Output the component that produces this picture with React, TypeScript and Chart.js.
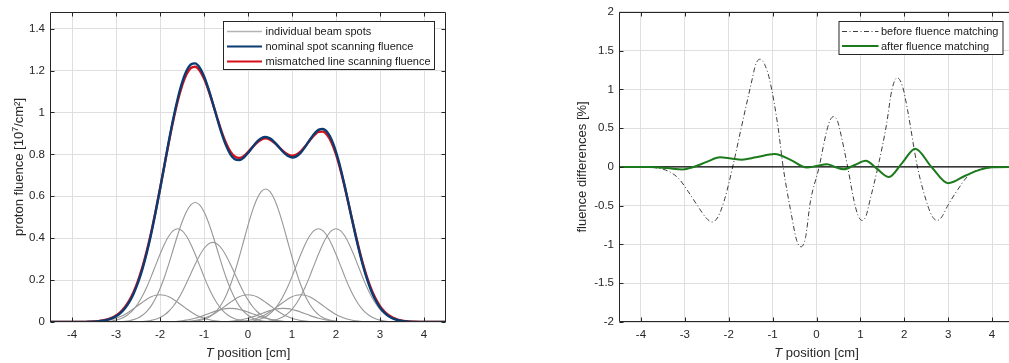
import React, { useEffect, useRef } from "react";
import { Chart, registerables } from "chart.js";

Chart.register(...registerables);

// ------------------------------------------------------------------ data
const xTicks = [-4, -3, -2, -1, 0, 1, 2, 3, 4];
const fluenceTicks = [0, 0.2, 0.4, 0.6, 0.8, 1, 1.2, 1.4];
const diffTicks = [-2, -1.5, -1, -0.5, 0, 0.5, 1, 1.5, 2];

// individual beam spots (centre [cm], peak fluence [10^7/cm²])
const spotCenters = [-2, -1.6, -1.2, -0.8, -0.4, 0, 0.4, 0.8, 1.2, 1.6, 2];
const spotPeaks = [0.13, 0.445, 0.57, 0.38, 0.065, 0.13, 0.635, 0.065, 0.13, 0.445, 0.445];

// relative beam-spot profile, read every 0.1 cm from the spot centre
const spotProfile = [
  1, 0.98, 0.923, 0.835, 0.726, 0.607, 0.487, 0.375, 0.278, 0.198, 0.135,
  0.089, 0.056, 0.034, 0.02, 0.011, 0.006, 0.003, 0.0015, 0.0007, 0.0003,
];
// broadened profile of the mismatched line scanning
const lineProfile = [
  0.974, 0.955, 0.903, 0.821, 0.719, 0.606, 0.492, 0.385, 0.289, 0.21, 0.146,
  0.098, 0.064, 0.04, 0.024, 0.014, 0.008, 0.004, 0.002, 0.001, 0.0005,
];
const profileStep = 0.1;

// fluence differences [%]
const beforeX = [
  -4.5, -4.0, -3.67, -3.37, -3.14, -2.92, -2.7, -2.51, -2.38, -2.24, -2.09, -1.91,
  -1.72, -1.49, -1.38, -1.28, -1.18, -1.07, -0.88, -0.76, -0.57, -0.45, -0.35, -0.25,
  -0.14, 0.06, 0.21, 0.3, 0.39, 0.48, 0.56, 0.71, 0.86, 0.95, 1.04, 1.13, 1.21, 1.4,
  1.59, 1.72, 1.84, 1.96, 2.07, 2.3, 2.53, 2.64, 2.75, 2.86, 2.98, 3.21, 3.43, 3.66,
  3.89, 4.2, 4.5,
];
const beforeY = [
  0, 0, -0.01, -0.056, -0.15, -0.32, -0.51, -0.66, -0.71, -0.64, -0.41, 0,
  0.49, 1.07, 1.33, 1.39, 1.32, 1.13, 0.53, 0, -0.62, -0.95, -1.03, -0.91,
  -0.45, 0, 0.41, 0.59, 0.65, 0.59, 0.41, 0, -0.45, -0.63, -0.69, -0.63, -0.45, 0,
  0.53, 1.0, 1.15, 1.04, 0.75, 0, -0.49, -0.64, -0.69, -0.64, -0.51, -0.3, -0.13, -0.04,
  -0.01, 0, 0,
];
const afterX = [
  -4.5, -3.8, -3.4, -3.05, -2.8, -2.5, -2.2, -1.95, -1.7, -1.38, -0.95, -0.58,
  -0.22, 0.0, 0.24, 0.42, 0.62, 0.87, 1.12, 1.38, 1.65, 1.95, 2.25, 2.62, 3.0,
  3.4, 3.73, 4.0, 4.5,
];
const afterY = [
  0, 0, -0.015, -0.033, 0, 0.065, 0.124, 0.11, 0.094, 0.124, 0.167, 0.088,
  -0.008, 0.012, 0.035, 0.0, -0.03, 0.025, 0.08, -0.025, -0.13, 0.05, 0.235, 0.0, -0.21,
  -0.11, -0.035, -0.005, 0,
];
const zeroX = [-4.5, 4.5];
const zeroY = [0, 0];

// ------------------------------------------------------------------ styles
const FONT = "'Liberation Sans', Arial, Helvetica, sans-serif";
const TEXT = "#262626";
const GRID = "#dfdfdf";
const SPOT = "#979797";
const BLUE = "#0b3b70";
const RED = "#d6101a";
const DASHGRAY = "#3c3c3c";
const GREEN = "#1b7a1b";

const positions = Array.from({ length: 91 }, (_, i) => Math.round((-4.5 + i * profileStep) * 10) / 10);

function spotCurve(profile: number[], center: number, peak: number) {
  return positions.map((x) => {
    const k = Math.round(Math.abs(x - center) / profileStep);
    return { x, y: k < profile.length ? peak * profile[k] : 0 };
  });
}

function sumCurves(curves: { x: number; y: number }[][]) {
  return positions.map((x, j) => ({ x, y: curves.reduce((s, c) => s + c[j].y, 0) }));
}

function zip(xs: number[], ys: number[]) {
  return xs.map((x, i) => ({ x, y: ys[i] }));
}

type Part = { text: string; font: string; dy?: number };

function drawRich(ctx: CanvasRenderingContext2D, parts: Part[], cx: number, cy: number, rotate: boolean, baseOff: number) {
  ctx.save();
  ctx.translate(cx, cy);
  if (rotate) ctx.rotate(-Math.PI / 2);
  ctx.textBaseline = "alphabetic";
  ctx.textAlign = "left";
  ctx.fillStyle = TEXT;
  let total = 0;
  for (const p of parts) {
    ctx.font = p.font;
    total += ctx.measureText(p.text).width;
  }
  let x = -total / 2;
  for (const p of parts) {
    ctx.font = p.font;
    ctx.fillText(p.text, x, baseOff + (p.dy || 0));
    x += ctx.measureText(p.text).width;
  }
  ctx.restore();
}

type LegendItem = { label: string; color: string; width: number; dash?: number[] };
type Deco = {
  legend: { left: number; top: number; right: number; bottom: number; rows: number[]; lineFrom: number; lineTo: number; textX: number; items: LegendItem[] };
  yTitle: Part[];
  yTitleX: number;
};

function makeDeco(deco: Deco) {
  return {
    id: "deco",
    afterDatasetsDraw(chart: any) {
      const { ctx, chartArea: a, scales } = chart;
      ctx.save();
      ctx.strokeStyle = TEXT;
      ctx.lineWidth = 1;
      ctx.setLineDash([]);
      ctx.beginPath();
      const L = Math.round(a.left) + 0.5;
      const R = Math.round(a.right) - 0.5;
      const T = Math.round(a.top) + 0.5;
      const B = Math.round(a.bottom) - 0.5;
      ctx.rect(L, T, R - L, B - T);
      const tl = 4;
      for (const v of xTicks) {
        const px = Math.round(scales.x.getPixelForValue(v)) + 0.5;
        ctx.moveTo(px, B);
        ctx.lineTo(px, B - tl);
        ctx.moveTo(px, T);
        ctx.lineTo(px, T + tl);
      }
      for (const t of scales.y.ticks) {
        const py = Math.round(scales.y.getPixelForValue(t.value)) + 0.5;
        ctx.moveTo(L, py);
        ctx.lineTo(L + tl, py);
        ctx.moveTo(R, py);
        ctx.lineTo(R - tl, py);
      }
      ctx.stroke();

      // legend
      const g = deco.legend;
      ctx.fillStyle = "#ffffff";
      ctx.fillRect(g.left, g.top, g.right - g.left, g.bottom - g.top);
      ctx.strokeStyle = TEXT;
      ctx.lineWidth = 1;
      ctx.strokeRect(g.left + 0.5, g.top + 0.5, g.right - g.left, g.bottom - g.top);
      g.items.forEach((it, i) => {
        const y = g.rows[i];
        ctx.beginPath();
        ctx.strokeStyle = it.color;
        ctx.lineWidth = it.width;
        ctx.setLineDash(it.dash || []);
        ctx.moveTo(g.lineFrom, y);
        ctx.lineTo(g.lineTo, y);
        ctx.stroke();
        ctx.setLineDash([]);
        ctx.fillStyle = "#1a1a1a";
        ctx.font = `11px ${FONT}`;
        ctx.textBaseline = "middle";
        ctx.textAlign = "left";
        ctx.fillText(it.label, g.textX, y + 0.5);
      });
      ctx.restore();

      // axis titles
      const cx = (a.left + a.right) / 2;
      drawRich(
        ctx,
        [
          { text: "T", font: `italic 13px ${FONT}` },
          { text: " position [cm]", font: `13px ${FONT}` },
        ],
        cx,
        352,
        false,
        4.5
      );
      drawRich(ctx, deco.yTitle, deco.yTitleX, (a.top + a.bottom) / 2, true, 4.5);
    },
  };
}

function axisCommon(ticksArr: number[], min: number, max: number, isX: boolean) {
  const base: any = {
    type: "linear",
    min,
    max,
    afterBuildTicks: (s: any) => {
      s.ticks = ticksArr.map((v) => ({ value: v }));
    },
    ticks: {
      color: TEXT,
      font: { family: FONT, size: 11.5 },
      padding: isX ? 6 : 5,
      autoSkip: false,
      maxRotation: 0,
      callback: (v: number) => String(v),
    },
    grid: { color: GRID, lineWidth: 1, drawTicks: false },
    border: { display: false },
    title: { display: false },
  };
  return base;
}

function FluenceChart() {
  const ref = useRef<HTMLCanvasElement>(null);
  useEffect(() => {
    const spots = spotCenters.map((c, i) => spotCurve(spotProfile, c, spotPeaks[i]));
    const lineSpots = spotCenters.map((c, i) => spotCurve(lineProfile, c, spotPeaks[i]));
    const nominal = sumCurves(spots);
    const mismatched = sumCurves(lineSpots);
    const datasets: any[] = spots.map((d) => ({
      data: d,
      borderColor: SPOT,
      borderWidth: 1.1,
      order: 2,
    }));
    datasets.push({ data: mismatched, borderColor: RED, borderWidth: 2.4, order: 1 });
    datasets.push({ data: nominal, borderColor: BLUE, borderWidth: 2.4, order: 0 });

    const x = axisCommon(xTicks, -4.5, 4.5, true);
    x.afterFit = (s: any) => {
      s.height = 41;
    };
    const y = axisCommon(fluenceTicks, 0, 1.48, false);
    y.afterFit = (s: any) => {
      s.width = 50;
    };

    const chart = new Chart(ref.current as HTMLCanvasElement, {
      type: "line",
      data: { datasets },
      options: {
        animation: false,
        responsive: false,
        maintainAspectRatio: false,
        layout: { padding: { top: 9, right: 34, left: 0, bottom: 0 } },
        plugins: { legend: { display: false }, tooltip: { enabled: false } },
        elements: { point: { radius: 0 }, line: { cubicInterpolationMode: "monotone" } },
        parsing: false as any,
        scales: { x, y },
      } as any,
      plugins: [
        makeDeco({
          legend: {
            left: 223,
            top: 21,
            right: 434,
            bottom: 69,
            rows: [31.5, 46.5, 61.5],
            lineFrom: 227,
            lineTo: 262,
            textX: 265.5,
            items: [
              { label: "individual beam spots", color: "#b3b3b3", width: 1.5 },
              { label: "nominal spot scanning fluence", color: BLUE, width: 2.2 },
              { label: "mismatched line scanning fluence", color: RED, width: 2.2 },
            ],
          },
          yTitle: [
            { text: "proton fluence [10", font: `13px ${FONT}` },
            { text: "7", font: `9px ${FONT}`, dy: -5 },
            { text: "/cm²]", font: `13px ${FONT}` },
          ],
          yTitleX: 18.5,
        }),
      ],
    });
    return () => chart.destroy();
  }, []);
  return (
    <canvas
      ref={ref}
      width={480}
      height={363}
      style={{ position: "absolute", left: 0, top: 0, width: 480, height: 363 }}
    />
  );
}

function DifferenceChart() {
  const ref = useRef<HTMLCanvasElement>(null);
  useEffect(() => {
    const datasets: any[] = [
      { data: zip(afterX, afterY), borderColor: GREEN, borderWidth: 2, order: 0 },
      { data: zip(zeroX, zeroY), borderColor: "#000000", borderWidth: 1.2, order: 1 },
      {
        data: zip(beforeX, beforeY),
        borderColor: DASHGRAY,
        borderWidth: 1,
        borderDash: [5, 2.5, 1, 2.5],
        order: 2,
      },
    ];
    const x = axisCommon(xTicks, -4.5, 4.5, true);
    x.afterFit = (s: any) => {
      s.height = 41;
    };
    const y = axisCommon(diffTicks, -2, 2, false);
    y.afterFit = (s: any) => {
      s.width = 49;
    };
    const chart = new Chart(ref.current as HTMLCanvasElement, {
      type: "line",
      data: { datasets },
      options: {
        animation: false,
        responsive: false,
        maintainAspectRatio: false,
        layout: { padding: { top: 9, right: 16, left: 0, bottom: 0 } },
        plugins: { legend: { display: false }, tooltip: { enabled: false } },
        elements: { point: { radius: 0 }, line: { cubicInterpolationMode: "monotone" } },
        parsing: false as any,
        scales: { x, y },
      } as any,
      plugins: [
        makeDeco({
          legend: {
            left: 268.5,
            top: 21,
            right: 432.5,
            bottom: 54,
            rows: [31.5, 46],
            lineFrom: 272,
            lineTo: 308.5,
            textX: 311,
            items: [
              { label: "before fluence matching", color: DASHGRAY, width: 1, dash: [5, 2.5, 1, 2.5] },
              { label: "after fluence matching", color: GREEN, width: 2 },
            ],
          },
          yTitle: [{ text: "fluence differences [%]", font: `13px ${FONT}` }],
          yTitleX: 11.5,
        }),
      ],
    });
    return () => chart.destroy();
  }, []);
  return (
    <canvas
      ref={ref}
      width={460}
      height={363}
      style={{ position: "absolute", left: 570, top: 0, width: 460, height: 363 }}
    />
  );
}

export default function App() {
  return (
    <div
      style={{
        position: "fixed",
        left: 0,
        top: 0,
        width: 1009,
        height: 363,
        overflow: "hidden",
        background: "#ffffff",
      }}
    >
      <FluenceChart />
      <DifferenceChart />
    </div>
  );
}
